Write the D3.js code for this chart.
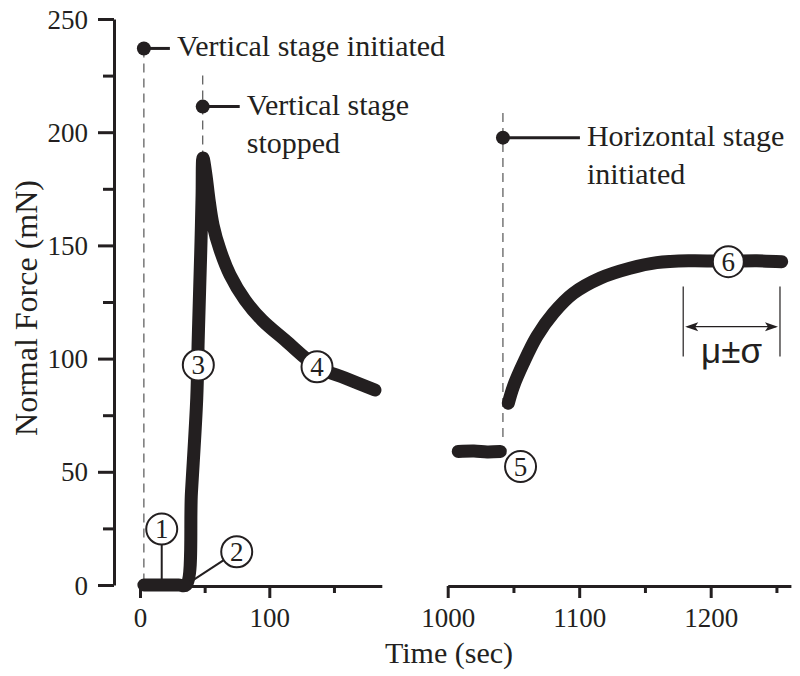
<!DOCTYPE html>
<html><head><meta charset="utf-8">
<script src="https://cdn.jsdelivr.net/npm/d3@7"></script>
<style>
html,body{margin:0;padding:0;background:#fff;}
svg{display:block;}
text{font-family:"Liberation Serif","Times New Roman",serif;fill:#231f20;}
</style></head>
<body>
<svg id="chart" width="800" height="676"></svg>
<script>
// ---- data (time in s, normal force in mN) ----
const yTicks = [0, 50, 100, 150, 200, 250];
const yMinorTicks = [25, 75, 125, 175, 225];
const xLeftTicks = [0, 100];
const xLeftMinorTicks = [50, 150];
const xRightTicks = [1000, 1100, 1200];
const xRightMinorTicks = [1050, 1150, 1250];

const verticalTime  = [3, 10, 20, 30, 35.6, 39.8, 43.9, 45.0, 46.2, 47.2, 48.0, 48.7, 51.0, 53.4, 56.5, 61.9, 69.6, 81.2, 94.4, 112.1, 136.9, 158.5, 181.7];
const verticalForce = [0, 0, 0, 0, 0, 41, 82.6, 108, 132, 152, 172, 188.6, 181.1, 170.1, 159.0, 148.0, 137.0, 125.9, 117.0, 108.2, 96.4, 91.4, 86.1];

const holdTime  = [1008, 1020, 1030, 1040];
const holdForce = [59, 59.2, 58.8, 59];

const slideTime  = [1046.1, 1049.9, 1057.5, 1067.7, 1080.3, 1095.5, 1115.8, 1138.6, 1158.9, 1184.3, 1213.4, 1235, 1254];
const slideForce = [80.3, 87.6, 97.9, 109.7, 120.0, 128.8, 135.5, 139.9, 142.4, 143.2, 143.0, 143.2, 142.8];

// event markers
const events = [
  {panel: "L", t: 3,    dot: 237,   top: 237,   bottom: 0,   lines: ["Vertical stage initiated"], lead: 26},
  {panel: "L", t: 48.5, dot: 211.3, top: 225,   bottom: 191, lines: ["Vertical stage", "stopped"], lead: 37},
  {panel: "R", t: 1042, dot: 197.6, top: 208.5, bottom: 64,  lines: ["Horizontal stage", "initiated"], lead: 77}
];

// numbered circle labels (data coords)
const circleLabels = [
  {id: "1", panel: "L", t: 16.8,   v: 24.7, leadT: 16.8, leadV: 2.2},
  {id: "2", panel: "L", t: 74.8,   v: 14.7, leadT: 38.7, leadV: 1.3},
  {id: "3", panel: "L", t: 45.1,   v: 97.2},
  {id: "4", panel: "L", t: 136.9,  v: 96.4},
  {id: "5", panel: "R", t: 1055.4, v: 52.3},
  {id: "6", panel: "R", t: 1213.4, v: 142.8}
];
const statRange = [1179.1, 1252.7];

// ---- drawing ----
const ink = "#231f20";
const svg = d3.select("#chart");
const y = d3.scaleLinear().domain([0, 250]).range([585, 19]);
const xL = d3.scaleLinear().domain([0, 187]).range([140, 381.8]);
const xR = d3.scaleLinear().domain([1000, 1261]).range([447.7, 790.9]);
const xs = p => p === "L" ? xL : xR;

function styleAxis(g, fs) {
  g.selectAll("path.domain").attr("stroke", ink).attr("stroke-width", 3);
  g.selectAll(".tick line").attr("stroke", ink).attr("stroke-width", 3);
  g.selectAll(".tick text").attr("fill", ink).style("font-size", fs + "px")
    .style("font-family", '"Liberation Serif","Times New Roman",serif');
}

// y axis
const gy = svg.append("g").attr("transform", "translate(114,0)")
  .call(d3.axisLeft(y).tickValues(yTicks).tickSize(16).tickSizeOuter(0).tickPadding(10).tickFormat(d3.format("d")));
styleAxis(gy, 27);
gy.selectAll(".tick text").attr("dy", "0.34em");
const gym = svg.append("g").attr("transform", "translate(114,0)")
  .call(d3.axisLeft(y).tickValues(yMinorTicks).tickSize(11).tickSizeOuter(0).tickFormat(""));
styleAxis(gym, 27);
gym.select("path.domain").remove();

// x axes
function xAxis(scale, major, minor) {
  const g = svg.append("g").attr("transform", "translate(0,586)")
    .call(d3.axisBottom(scale).tickValues(major).tickSize(12).tickSizeOuter(0).tickPadding(10).tickFormat(d3.format("d")));
  styleAxis(g, 27);
  const gm = svg.append("g").attr("transform", "translate(0,586)")
    .call(d3.axisBottom(scale).tickValues(minor).tickSize(7).tickSizeOuter(0).tickFormat(""));
  styleAxis(gm, 27);
  gm.select("path.domain").remove();
}
xAxis(xL, xLeftTicks, xLeftMinorTicks);
xAxis(xR, xRightTicks, xRightMinorTicks);

// axis titles
svg.append("text").attr("x", 449).attr("y", 663).attr("text-anchor", "middle")
  .style("font-size", "30px").text("Time (sec)");
svg.append("text").attr("transform", "translate(37,308) rotate(-90)").attr("text-anchor", "middle")
  .style("font-size", "32px").text("Normal Force (mN)");

// dashed event lines
events.forEach(e => {
  const sx = xs(e.panel);
  svg.append("line").attr("x1", sx(e.t)).attr("x2", sx(e.t))
    .attr("y1", y(e.top)).attr("y2", y(e.bottom))
    .attr("stroke", "#555").attr("stroke-width", 1.2).attr("stroke-dasharray", "9,6");
});

// data curves
const lineGen = (sx) => d3.line().x(d => sx(d[0])).y(d => y(d[1])).curve(d3.curveCatmullRom.alpha(0.5));
function drawSeries(sx, ts, vs) {
  svg.append("path").datum(ts.map((t, i) => [t, vs[i]]))
    .attr("d", lineGen(sx)).attr("fill", "none").attr("stroke", ink)
    .attr("stroke-width", 13).attr("stroke-linecap", "round").attr("stroke-linejoin", "round");
}
drawSeries(xL, verticalTime, verticalForce);
drawSeries(xR, holdTime, holdForce);
drawSeries(xR, slideTime, slideForce);

// event dots + labels
events.forEach(e => {
  const sx = xs(e.panel);
  const cx = sx(e.t), cy = y(e.dot);
  svg.append("line").attr("x1", cx).attr("x2", cx + e.lead).attr("y1", cy).attr("y2", cy)
    .attr("stroke", ink).attr("stroke-width", 3);
  svg.append("circle").attr("cx", cx).attr("cy", cy).attr("r", 7).attr("fill", ink);
  e.lines.forEach((ln, i) => {
    svg.append("text").attr("x", cx + e.lead + 7).attr("y", cy + 8 + i * 38)
      .style("font-size", "30px").text(ln);
  });
});

// numbered circles
const R = 15.5;
circleLabels.forEach(c => {
  const sx = xs(c.panel);
  const cx = sx(c.t), cy = y(c.v);
  if (c.leadT !== undefined) {
    const lx = sx(c.leadT), ly = y(c.leadV);
    const dx = lx - cx, dy = ly - cy, L = Math.hypot(dx, dy);
    svg.append("line").attr("x1", cx + dx / L * R).attr("y1", cy + dy / L * R)
      .attr("x2", lx).attr("y2", ly).attr("stroke", ink).attr("stroke-width", 2);
  }
  svg.append("circle").attr("cx", cx).attr("cy", cy).attr("r", R)
    .attr("fill", "#fff").attr("stroke", ink).attr("stroke-width", 2);
  svg.append("text").attr("x", cx).attr("y", cy).attr("dy", "0.34em").attr("text-anchor", "middle")
    .style("font-size", "27px").text(c.id);
});

// mu +- sigma bracket
const bx1 = xR(statRange[0]), bx2 = xR(statRange[1]);
[bx1, bx2].forEach(bx => svg.append("line").attr("x1", bx).attr("x2", bx)
  .attr("y1", y(131.8)).attr("y2", y(100.9)).attr("stroke", ink).attr("stroke-width", 1.2));
const ay = y(114.1);
svg.append("line").attr("x1", bx1 + 4).attr("x2", bx2 - 4).attr("y1", ay).attr("y2", ay)
  .attr("stroke", ink).attr("stroke-width", 1.3);
svg.append("path").attr("d", `M${bx1+2},${ay} l13,-4.5 l-3,4.5 l3,4.5 Z`).attr("fill", ink);
svg.append("path").attr("d", `M${bx2-2},${ay} l-13,-4.5 l3,4.5 l-3,4.5 Z`).attr("fill", ink);
svg.append("text").attr("x", (bx1 + bx2) / 2).attr("y", ay + 36).attr("text-anchor", "middle")
  .style("font-family", '"Liberation Sans",Arial,sans-serif').style("font-size", "35px").text("μ±σ");
</script>
</body></html>
